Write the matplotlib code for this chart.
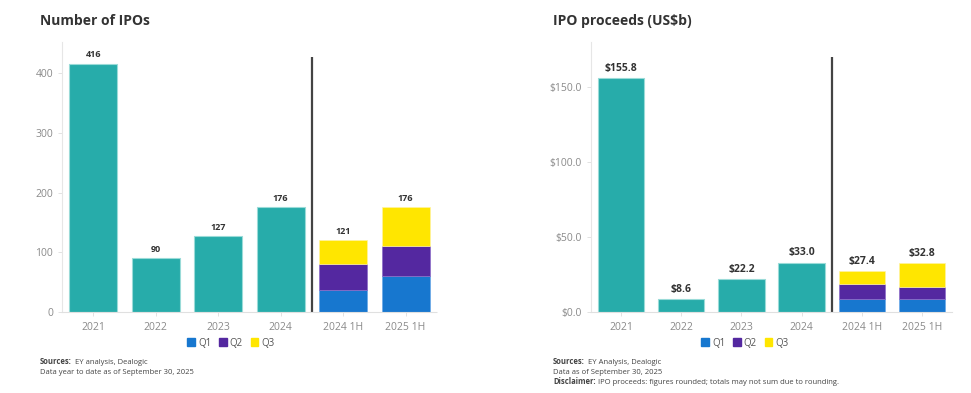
import matplotlib
matplotlib.use("Agg")
import matplotlib.pyplot as plt
from matplotlib.patches import Patch

plt.rcParams['font.family'] = ['Open Sans', 'DejaVu Sans']

# Data
categories = ["2021", "2022", "2023", "2024", "2024 1H", "2025 1H"]
annual_count = [416, 90, 127, 176]
annual_proceeds = [155.8, 8.6, 22.2, 33.0]

# half-year splits by quarter (2024 1H, 2025 1H)
count_q1 = [37, 60]
count_q2 = [43, 50]
count_q3 = [41, 66]
count_totals = [121, 176]

proceeds_q1 = [8.7, 8.7]
proceeds_q2 = [10.0, 8.0]
proceeds_q3 = [8.7, 16.1]
proceeds_totals = [27.4, 32.8]

TEAL = "#27ACAA"
TEAL_EDGE = "#9ADBD8"
Q1_COL = "#1777CF"
Q2_COL = "#5428A0"
Q3_COL = "#FFE600"
TEXT = "#333333"
GREY = "#8a8a8a"

fig = plt.figure(figsize=(9.71, 3.93), dpi=100)


def draw_panel(ax, annual, q1, q2, q3, totals, ymax, divider_top, fmt, label_size, ticks, tick_fmt):
    w = 0.77
    xs_a = list(range(len(annual)))
    ax.bar(xs_a, annual, width=w, color=TEAL, edgecolor=TEAL_EDGE, linewidth=0.8)
    for x, v in zip(xs_a, annual):
        ax.annotate(fmt(v), (x, v), xytext=(0, 3), textcoords="offset points",
                    ha="center", va="bottom", fontsize=label_size, fontweight="bold", color=TEXT)

    # stacked half-year bars
    xs_h = [4, 5]
    ax.bar(xs_h, q1, width=w, color=Q1_COL, edgecolor="#6aa8e8", linewidth=0.5)
    ax.bar(xs_h, q2, width=w, bottom=q1, color=Q2_COL, edgecolor="#8c6cc8", linewidth=0.5)
    bottom3 = [a + b for a, b in zip(q1, q2)]
    ax.bar(xs_h, [t - b for t, b in zip(totals, bottom3)], width=w, bottom=bottom3,
           color=Q3_COL, edgecolor="#fff3a0", linewidth=0.5)
    for x, v in zip(xs_h, totals):
        ax.annotate(fmt(v), (x, v), xytext=(0, 3), textcoords="offset points",
                    ha="center", va="bottom", fontsize=label_size, fontweight="bold", color=TEXT)

    ax.plot([3.5, 3.5], [0, divider_top], color="#444444", lw=1.6, solid_capstyle="butt")

    ax.set_xlim(-0.5, 5.5)
    ax.set_ylim(0, ymax)
    ax.set_xticks(range(len(categories)))
    ax.set_xticklabels(categories)
    ax.set_yticks(ticks)
    ax.set_yticklabels([tick_fmt(t) for t in ticks])
    ax.tick_params(axis="both", labelsize=7.5, colors="#dddddd", labelcolor=GREY, length=3, width=0.6)
    ax.tick_params(axis="x", pad=4)
    for s in ("top", "right"):
        ax.spines[s].set_visible(False)
    ax.spines["left"].set_color("#e6e6e6")
    ax.spines["left"].set_linewidth(0.8)
    ax.spines["bottom"].set_color("#e0e0e0")
    ax.spines["bottom"].set_linestyle((0, (1, 1)))


ax1 = fig.add_axes([0.0639, 0.206, 0.386, 0.687])
draw_panel(ax1, annual_count, count_q1, count_q2, count_q3, count_totals,
           452, 427, lambda v: f"{v:d}", 6.5, [0, 100, 200, 300, 400], lambda t: f"{t}")

ax2 = fig.add_axes([0.6087, 0.206, 0.3717, 0.687])
draw_panel(ax2, annual_proceeds, proceeds_q1, proceeds_q2, proceeds_q3, proceeds_totals,
           180, 170, lambda v: f"${v:.1f}", 7.5, [0, 50, 100, 150], lambda t: f"${t:.1f}")

# Titles
fig.text(40 / 971, 1 - 21 / 393, "Number of IPOs", fontsize=10, fontweight="bold",
         color=TEXT, va="center", ha="left")
fig.text(553 / 971, 1 - 21 / 393, "IPO proceeds (US$b)", fontsize=10, fontweight="bold",
         color=TEXT, va="center", ha="left")

# Legends
handles = [Patch(color=Q1_COL, label="Q1"), Patch(color=Q2_COL, label="Q2"),
           Patch(color=Q3_COL, label="Q3")]
for cx in (231, 745):
    fig.legend(handles=handles, loc="center", bbox_to_anchor=(cx / 971, 1 - 343 / 393),
               ncol=3, frameon=False, fontsize=7, handlelength=0.8, handleheight=0.8,
               handletextpad=0.3, columnspacing=0.8, labelcolor="#555555")


def note(x_px, y_px, bold, rest):
    t = fig.text(x_px / 971, 1 - y_px / 393, bold, fontsize=5.5, fontweight="bold",
                 color="#444444", va="center", ha="left")
    fig.add_artist(plt.Annotation(rest, xy=(1, 0.5), xycoords=t, xytext=(2, 0),
                                  textcoords="offset points", fontsize=5.5, color="#444444",
                                  va="center", ha="left", annotation_clip=False))


note(40, 362, "Sources:", "EY analysis, Dealogic")
fig.text(40 / 971, 1 - 372 / 393, "Data year to date as of September 30, 2025",
         fontsize=5.5, color="#444444", va="center", ha="left")

note(553, 362, "Sources:", "EY Analysis, Dealogic")
fig.text(553 / 971, 1 - 372 / 393, "Data as of September 30, 2025",
         fontsize=5.5, color="#444444", va="center", ha="left")
note(553, 382, "Disclaimer:", "IPO proceeds: figures rounded; totals may not sum due to rounding.")

fig.savefig("out.png", dpi=100)
